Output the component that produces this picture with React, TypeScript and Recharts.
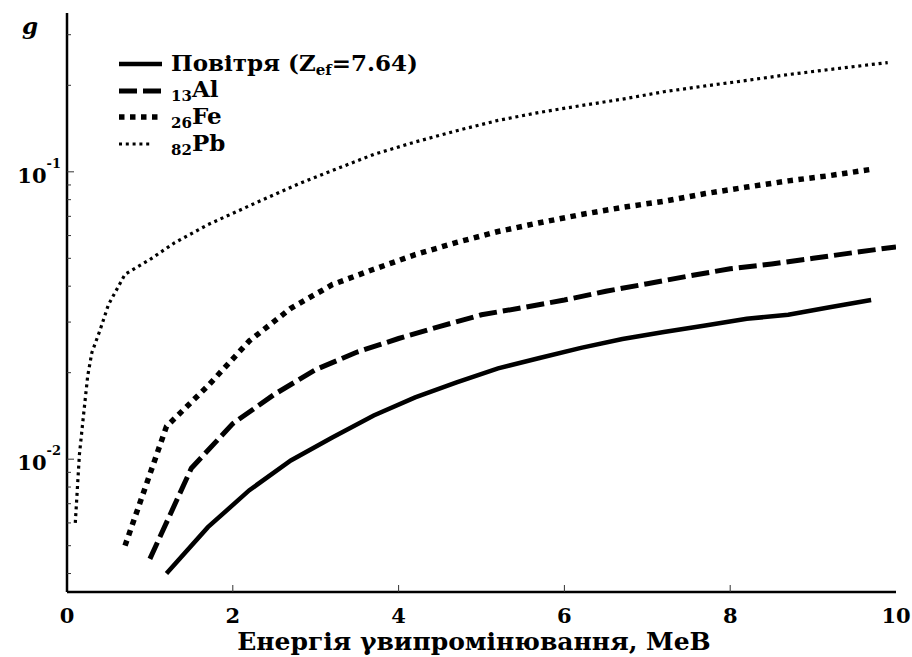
import React from 'react';
import { LineChart, Line, XAxis, YAxis, Legend } from 'recharts';

// energy grids (MeV) and g values
const airE = [1.2, 1.7, 2.2, 2.7, 3.2, 3.7, 4.2, 4.7, 5.2, 5.7, 6.2, 6.7, 7.2, 7.7, 8.2, 8.7, 9.2, 9.7];
const airG = [0.004, 0.0058, 0.0078, 0.0099, 0.0119, 0.0142, 0.0164, 0.0185, 0.0207, 0.0225, 0.0244, 0.0262, 0.0277, 0.0292, 0.0308, 0.0318, 0.0338, 0.0358];

const alE = [1.0, 1.5, 2.0, 2.5, 3.0, 3.5, 4.0, 4.5, 5.0, 5.5, 6.0, 6.5, 7.0, 7.5, 8.0, 8.5, 9.0, 9.5, 10.0];
const alG = [0.0045, 0.0093, 0.0133, 0.0168, 0.0205, 0.0236, 0.0263, 0.029, 0.0318, 0.0337, 0.0358, 0.0384, 0.0408, 0.0434, 0.046, 0.0478, 0.05, 0.0524, 0.0548];

const feE = [0.7, 1.2, 1.7, 2.2, 2.7, 3.2, 3.7, 4.2, 4.7, 5.2, 5.7, 6.2, 6.7, 7.2, 7.7, 8.2, 8.7, 9.2, 9.7];
const feG = [0.005, 0.013, 0.018, 0.0258, 0.0335, 0.0405, 0.0458, 0.0515, 0.0568, 0.062, 0.0665, 0.071, 0.0752, 0.079, 0.084, 0.0885, 0.093, 0.097, 0.102];

const pbE = [0.1, 0.15, 0.2, 0.25, 0.3, 0.4, 0.5, 0.7, 1.0, 1.3, 1.7, 2.3, 2.8, 3.2, 3.7, 4.2, 4.7, 5.2, 5.7, 6.2, 6.7, 7.2, 7.7, 8.2, 8.7, 9.2, 9.9];
const pbG = [0.006, 0.0104, 0.0143, 0.0195, 0.0235, 0.0282, 0.0345, 0.044, 0.0495, 0.0567, 0.0655, 0.0785, 0.091, 0.101, 0.115, 0.127, 0.139, 0.151, 0.161, 0.17, 0.179, 0.19, 0.199, 0.208, 0.218, 0.227, 0.24];

const xTicks = [0, 2, 4, 6, 8, 10];
const yTicks = [0.004, 0.005, 0.006, 0.007, 0.008, 0.009, 0.01, 0.02, 0.03, 0.04, 0.05, 0.06, 0.07, 0.08, 0.09, 0.1, 0.2, 0.3];
const yMajor = [0.01, 0.1];
const yMajorExp = ['-2', '-1'];

const toRows = (xs: number[], ys: number[]) => xs.map((x, i) => ({ x, g: ys[i] }));

const FONT = 'DejaVu Serif';

const series = [
  { key: 'air', data: toRows(airE, airG), width: 4.5, dash: undefined as string | undefined, sample: 43 },
  { key: 'al', data: toRows(alE, alG), width: 5, dash: '18 6', sample: 43 },
  { key: 'fe', data: toRows(feE, feG), width: 5.5, dash: '5.5 5.5', sample: 43 },
  { key: 'pb', data: toRows(pbE, pbG), width: 3.2, dash: '3 3.8', sample: 34 },
];

const sub = { fontSize: 15, position: 'relative' as const, top: 4 };

const labels: Record<string, React.ReactNode> = {
  air: <>Повітря (Z<span style={sub}>ef</span>=7.64)</>,
  al: <><span style={sub}>13</span>Al</>,
  fe: <><span style={sub}>26</span>Fe</>,
  pb: <><span style={sub}>82</span>Pb</>,
};

const renderLegend = () => (
  <div style={{ fontFamily: FONT, fontWeight: 'bold', fontSize: 23, color: '#000' }}>
    {series.map((s) => (
      <div key={s.key} style={{ display: 'flex', alignItems: 'center', height: 26.6 }}>
        <svg width={44} height={12} style={{ flex: 'none' }}>
          <line x1={0} x2={s.sample} y1={6} y2={6} stroke="#000" strokeWidth={s.width} strokeDasharray={s.dash} />
        </svg>
        <span style={{ marginLeft: 8, lineHeight: '24px', whiteSpace: 'nowrap' }}>{labels[s.key]}</span>
      </div>
    ))}
  </div>
);

const LeftTick = (props: any) => {
  const { x, y, payload } = props;
  const idx = yMajor.indexOf(payload.value);
  const major = idx >= 0;
  return (
    <g>
      <line x1={x} x2={x + (major ? 7 : 4)} y1={y} y2={y} stroke="#333" strokeWidth={1} />
      {major && (
        <text x={x - 6} y={y + 11} textAnchor="end" fontFamily={FONT} fontWeight="bold" fontSize={21} fill="#000">
          10<tspan dy={-15} fontSize={13}>{yMajorExp[idx]}</tspan>
        </text>
      )}
    </g>
  );
};

const RightTick = (props: any) => {
  const { x, y, payload } = props;
  const major = yMajor.indexOf(payload.value) >= 0;
  return <line x1={x} x2={x - (major ? 7 : 4)} y1={y} y2={y} stroke="#333" strokeWidth={1} />;
};

const BottomTick = (props: any) => {
  const { x, y, payload } = props;
  const inner = payload.value > 0 && payload.value < 10;
  return (
    <g>
      {inner && <line x1={x} x2={x} y1={y} y2={y - 7} stroke="#333" strokeWidth={1} />}
      <text x={x} y={y + 31} textAnchor="middle" fontFamily={FONT} fontWeight="bold" fontSize={21} fill="#000">
        {payload.value}
      </text>
    </g>
  );
};

const TopTick = (props: any) => {
  const { x, y, payload } = props;
  if (payload.value <= 0 || payload.value >= 10) return <g />;
  return <line x1={x} x2={x} y1={y} y2={y + 7} stroke="#333" strokeWidth={1} />;
};

export default function App() {
  return (
    <div style={{ position: 'absolute', left: 0, top: 0, width: 912, height: 657, background: '#fff' }}>
      <LineChart width={912} height={657} margin={{ top: 13, right: 16, bottom: 25, left: 7 }}>
        <XAxis
          xAxisId="b"
          type="number"
          dataKey="x"
          domain={[0, 10]}
          ticks={xTicks}
          interval={0}
          height={40}
          tickSize={0}
          tickMargin={0}
          tickLine={false}
          axisLine={{ stroke: '#000', strokeWidth: 2.5 }}
          tick={<BottomTick />}
          allowDataOverflow
        />
        <XAxis
          xAxisId="t"
          orientation="top"
          type="number"
          dataKey="x"
          domain={[0, 10]}
          ticks={xTicks}
          interval={0}
          height={0}
          tickSize={0}
          tickMargin={0}
          tickLine={false}
          axisLine={{ stroke: '#000', strokeWidth: 2 }}
          tick={<TopTick />}
          allowDataOverflow
        />
        <YAxis
          yAxisId="l"
          type="number"
          scale="log"
          domain={[0.00345, 0.357]}
          ticks={yTicks}
          interval={0}
          width={60}
          tickSize={0}
          tickMargin={0}
          tickLine={false}
          axisLine={{ stroke: '#000', strokeWidth: 2.5 }}
          tick={<LeftTick />}
          allowDataOverflow
        />
        <YAxis
          yAxisId="r"
          orientation="right"
          type="number"
          scale="log"
          domain={[0.00345, 0.357]}
          ticks={yTicks}
          interval={0}
          width={0}
          tickSize={0}
          tickMargin={0}
          tickLine={false}
          axisLine={{ stroke: '#000', strokeWidth: 2 }}
          tick={<RightTick />}
          allowDataOverflow
        />
        <Legend
          content={renderLegend}
          layout="horizontal"
          verticalAlign="middle"
          align="center"
          wrapperStyle={{ position: 'absolute', left: 119, top: 51, width: 'auto', height: 'auto' }}
        />
        {series.map((s) => (
          <Line
            key={s.key}
            xAxisId="b"
            yAxisId="l"
            data={s.data}
            dataKey="g"
            type="linear"
            stroke="#000"
            strokeWidth={s.width}
            strokeDasharray={s.dash}
            dot={false}
            activeDot={false}
            isAnimationActive={false}
          />
        ))}
      </LineChart>
      <svg width={912} height={657} style={{ position: 'absolute', left: 0, top: 0, pointerEvents: 'none' }}>
        <text x={22} y={34} fontFamily={FONT} fontWeight="bold" fontStyle="italic" fontSize={23} fill="#000">
          g
        </text>
        <text x={474} y={650} textAnchor="middle" fontFamily={FONT} fontWeight="bold" fontSize={25} fill="#000">
          Енергія γвипромінювання, МеВ
        </text>
      </svg>
    </div>
  );
}
